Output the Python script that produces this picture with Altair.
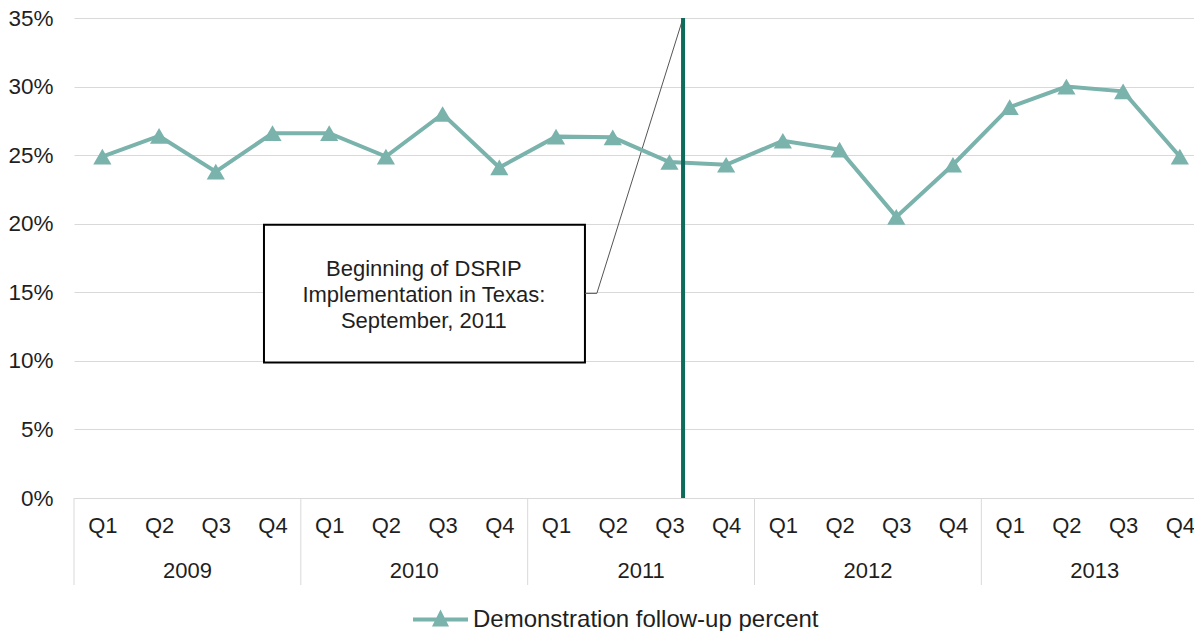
import altair as alt
import pandas as pd

# ---- data ----
years = ["2009", "2010", "2011", "2012", "2013"]
quarters = ["Q1", "Q2", "Q3", "Q4"]
follow_up = [24.9, 26.4, 23.8, 26.6, 26.6, 24.9, 28.0, 24.1, 26.35, 26.3,
             24.5, 24.3, 26.05, 25.4, 20.5, 24.3, 28.5, 30.0, 29.65, 24.9]
series_name = "Demonstration follow-up percent"
y_ticks = [0, 5, 10, 15, 20, 25, 30, 35]

# annotation (in quarter-index / percent units)
dsrip_position = [10.74]
annotation_lines = ["Beginning of DSRIP", "Implementation in Texas:", "September, 2011"]
annotation_line_y = [16.2, 14.3, 12.4]
annotation_x_center = [6.17]
box_x = [3.35, 9.01]
box_y = [9.88, 19.93]
leader_x = [9.01, 9.22, 10.74]
leader_y = [14.92, 14.92, 35.0]

# ---- styles ----
FONT = "Liberation Sans"
TXT = "#1f1f1f"
TEAL = "#7AB2AC"
DARK = "#0E6B5C"
GRID = "#d9d9d9"

quarter_labels = [q for _ in years for q in quarters]
n = len(quarter_labels)

df = pd.DataFrame({"pos": [i + 0.5 for i in range(n)], "value": follow_up,
                   "series": [series_name] * n})
df_years = pd.DataFrame({"pos": [i * 4 + 2 for i in range(len(years))], "year": years})
df_sep = pd.DataFrame({"pos": [i * 4 for i in range(len(years))]})
df_vline = pd.DataFrame({"pos": dsrip_position, "value": [0], "value2": [35]})
df_box = pd.DataFrame({"pos": [box_x[0]], "pos2": [box_x[1]],
                       "value": [box_y[0]], "value2": [box_y[1]]})
df_text = pd.DataFrame({"pos": annotation_x_center * len(annotation_lines),
                        "value": annotation_line_y, "line": annotation_lines})
df_leader = pd.DataFrame({"pos": leader_x, "value": leader_y, "order": [0, 1, 2]})

label_array = "[" + ",".join("'" + q + "'" for q in quarter_labels) + "]"

x_axis = alt.Axis(values=[i + 0.5 for i in range(n)],
                  labelExpr=label_array + "[floor(datum.value)]",
                  ticks=False, grid=False, domainColor=GRID, domainWidth=1,
                  labelPadding=17, labelFontSize=22, labelFont=FONT,
                  labelColor=TXT, labelFlush=False, title=None)
y_axis = alt.Axis(values=y_ticks, labelExpr="datum.value + '%'", ticks=False,
                  domain=False, gridColor=GRID, gridWidth=1, labelPadding=21,
                  labelFontSize=22.5, labelFont=FONT, labelColor=TXT, title=None)

x_scale = alt.Scale(domain=[0, 19.75], nice=False, zero=False)
y_scale = alt.Scale(domain=[0, 35], nice=False, zero=True)


def X(field="pos"):
    return alt.X(f"{field}:Q", scale=x_scale, axis=x_axis, title=None)


def Y(field="value"):
    return alt.Y(f"{field}:Q", scale=y_scale, axis=y_axis, title=None)


legend_path = ("M-1,-0.075L1,-0.075L1,0.075L-1,0.075Z "
               "M-0.31,0.25L0,-0.36L0.31,0.25Z")

box = alt.Chart(df_box).mark_rect(fill="white", stroke="black", strokeWidth=2).encode(
    x=X(), x2="pos2:Q", y=Y(), y2="value2:Q")

box_text = alt.Chart(df_text).mark_text(
    font=FONT, fontSize=22, color=TXT, baseline="alphabetic", align="center"
).encode(x=X(), y=Y(), text="line:N")

leader = alt.Chart(df_leader).mark_line(color="#555555", strokeWidth=1).encode(
    x=X(), y=Y(), order="order:Q")

line = alt.Chart(df).mark_line(color=TEAL, strokeWidth=4).encode(x=X(), y=Y())

points = alt.Chart(df).mark_point(shape="triangle-up", filled=True, size=330,
                                  opacity=1).encode(
    x=X(), y=Y(),
    color=alt.Color("series:N", scale=alt.Scale(range=[TEAL]),
                    legend=alt.Legend(orient="none", legendX=339, legendY=574,
                                      symbolType=legend_path, symbolSize=3025,
                                      symbolStrokeWidth=0, symbolOpacity=1,
                                      labelFontSize=24, labelFont=FONT,
                                      labelColor=TXT, labelOffset=5, padding=0,
                                      title=None, labelLimit=600)))

vline = alt.Chart(df_vline).mark_rule(color=DARK, strokeWidth=4).encode(
    x=X(), y=Y(), y2="value2:Q")

year_text = alt.Chart(df_years).mark_text(
    font=FONT, fontSize=22, color=TXT, baseline="alphabetic", align="center"
).encode(x=X(), y=alt.value(560), text="year:N")

separators = alt.Chart(df_sep).mark_rule(color=GRID, strokeWidth=1).encode(
    x=X(), y=alt.value(480), y2=alt.value(567))

chart = alt.layer(box, box_text, leader, line, points, vline, year_text, separators).properties(
    width=1120, height=480,
    autosize=alt.AutoSizeParams(type="none"),
    padding={"left": 66, "top": 10, "right": 0, "bottom": 133},
).configure_view(stroke=None)

chart.save("out.html", embed_options={"renderer": "svg", "actions": False})
